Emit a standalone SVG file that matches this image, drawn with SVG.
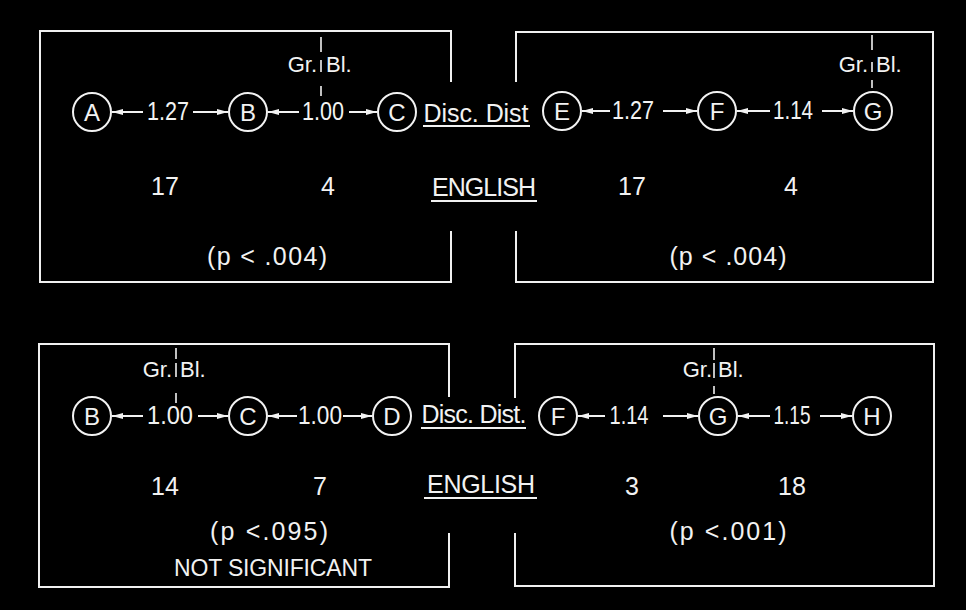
<svg xmlns="http://www.w3.org/2000/svg" width="966" height="610" viewBox="0 0 966 610">
<defs>
<marker id="ah" markerUnits="userSpaceOnUse" markerWidth="12" markerHeight="8" refX="11" refY="4" orient="auto">
<path d="M0,1 L11,4 L0,7 z" fill="#f2f2f2"/>
</marker>
</defs>
<style>
.frame{fill:none;stroke:#f0f0f0;stroke-width:2}
.node circle{fill:none;stroke:#f2f2f2;stroke-width:2}
.node text{font-family:"Liberation Sans",Arial,sans-serif;font-size:24px;fill:#f2f2f2;text-anchor:middle}
.conn line{stroke:#f2f2f2;stroke-width:2}
.arr{marker-end:url(#ah)}
.t{font-family:"Liberation Sans",Arial,sans-serif;font-size:25px;fill:#f2f2f2;text-anchor:middle}
.s{font-family:"Liberation Sans",Arial,sans-serif;font-size:22px;fill:#f2f2f2}
.u{stroke:#f2f2f2;stroke-width:2}
.gb{stroke:#f2f2f2;stroke-width:1.6}
</style>
<rect width="966" height="610" fill="#000"/>

<g id="frames">
<path class="frame" d="M451,82 V31 H40 V282 H451 V231"/>
<path class="frame" d="M516,82 V32 H933 V282 H516 V231"/>
<path class="frame" d="M449,397 V344 H39 V587 H449 V533"/>
<path class="frame" d="M515,398 V344 H934 V586 H515 V533"/>
</g>

<g id="tl-A" class="node"><circle cx="92" cy="112" r="19"/><text x="92" y="121">A</text></g>
<g id="tl-B" class="node"><circle cx="248" cy="112" r="19"/><text x="248" y="121">B</text></g>
<g id="tl-C" class="node"><circle cx="397" cy="112" r="19"/><text x="397" y="121">C</text></g>
<g id="tr-E" class="node"><circle cx="562" cy="111" r="19"/><text x="562" y="120">E</text></g>
<g id="tr-F" class="node"><circle cx="717" cy="111" r="19"/><text x="717" y="120">F</text></g>
<g id="tr-G" class="node"><circle cx="873" cy="111" r="19"/><text x="873" y="120">G</text></g>
<g id="bl-B" class="node"><circle cx="92" cy="416" r="19"/><text x="92" y="425">B</text></g>
<g id="bl-C" class="node"><circle cx="248" cy="416" r="19"/><text x="248" y="425">C</text></g>
<g id="bl-D" class="node"><circle cx="392" cy="416" r="19"/><text x="392" y="425">D</text></g>
<g id="br-F" class="node"><circle cx="558" cy="416" r="19"/><text x="558" y="425">F</text></g>
<g id="br-G" class="node"><circle cx="718" cy="416" r="19"/><text x="718" y="425">G</text></g>
<g id="br-H" class="node"><circle cx="872" cy="416" r="19"/><text x="872" y="425">H</text></g>

<g id="connectors" class="conn">
<line class="arr" x1="143" y1="112" x2="112" y2="112"/>
<line class="arr" x1="193" y1="112" x2="228" y2="112"/>
<line class="arr" x1="299" y1="112" x2="268" y2="112"/>
<line class="arr" x1="349" y1="112" x2="377" y2="112"/>
<line class="arr" x1="610" y1="111" x2="582" y2="111"/>
<line class="arr" x1="663" y1="111" x2="697" y2="111"/>
<line class="arr" x1="770" y1="111" x2="737" y2="111"/>
<line class="arr" x1="822" y1="111" x2="853" y2="111"/>
<line class="arr" x1="143" y1="416" x2="112" y2="416"/>
<line class="arr" x1="198" y1="416" x2="228" y2="416"/>
<line class="arr" x1="297" y1="416" x2="268" y2="416"/>
<line class="arr" x1="343" y1="416" x2="372" y2="416"/>
<line class="arr" x1="605" y1="416" x2="578" y2="416"/>
<line class="arr" x1="663" y1="416" x2="698" y2="416"/>
<line class="arr" x1="770" y1="416" x2="738" y2="416"/>
<line class="arr" x1="820" y1="416" x2="852" y2="416"/>
</g>

<g id="labels">
<text class="t" x="168" y="120" textLength="42" lengthAdjust="spacingAndGlyphs">1.27</text>
<text class="t" x="323" y="120" textLength="42" lengthAdjust="spacingAndGlyphs">1.00</text>
<text class="t" x="633" y="119" textLength="42" lengthAdjust="spacingAndGlyphs">1.27</text>
<text class="t" x="793" y="119" textLength="40" lengthAdjust="spacingAndGlyphs">1.14</text>
<text class="t" x="170" y="424" textLength="46" lengthAdjust="spacingAndGlyphs">1.00</text>
<text class="t" x="320" y="424" textLength="44" lengthAdjust="spacingAndGlyphs">1.00</text>
<text class="t" x="629" y="424" textLength="39" lengthAdjust="spacingAndGlyphs">1.14</text>
<text class="t" x="792" y="424" textLength="37" lengthAdjust="spacingAndGlyphs">1.15</text>

<text class="t" x="165" y="195">17</text>
<text class="t" x="328" y="195">4</text>
<text class="t" x="632" y="195">17</text>
<text class="t" x="791" y="195">4</text>
<text class="t" x="165" y="495">14</text>
<text class="t" x="320" y="495">7</text>
<text class="t" x="632" y="495">3</text>
<text class="t" x="792" y="495">18</text>

<text class="t" x="267" y="265" textLength="120" lengthAdjust="spacing">(p &lt; .004)</text>
<text class="t" x="728" y="265" textLength="117" lengthAdjust="spacing">(p &lt; .004)</text>
<text class="t" x="269" y="540" textLength="118" lengthAdjust="spacing">(p &lt;.095)</text>
<text class="t" x="728" y="540" textLength="117" lengthAdjust="spacing">(p &lt;.001)</text>
<text class="t" x="273" y="576" style="font-size:23px" textLength="198" lengthAdjust="spacing">NOT SIGNIFICANT</text>

<text class="t" x="476" y="122" textLength="105" lengthAdjust="spacing">Disc.  Dist</text>
<line class="u" x1="423" y1="126" x2="530" y2="126"/>
<text class="t" x="484" y="196" textLength="104" lengthAdjust="spacing">ENGLISH</text>
<line class="u" x1="431" y1="201" x2="537" y2="201"/>
<text class="t" x="474" y="423" textLength="105" lengthAdjust="spacing">Disc.  Dist.</text>
<line class="u" x1="421" y1="428" x2="526" y2="428"/>
<text class="t" x="481" y="493" textLength="108" lengthAdjust="spacing">ENGLISH</text>
<line class="u" x1="424" y1="498" x2="537" y2="498"/>

<text class="s" x="317" y="72" text-anchor="end">Gr.</text>
<text class="s" x="326" y="72">Bl.</text>
<line class="gb" x1="321" y1="37" x2="321" y2="52"/>
<line class="gb" x1="321" y1="60" x2="321" y2="72"/>
<line class="gb" x1="321" y1="86" x2="321" y2="96"/>

<text class="s" x="868" y="72" text-anchor="end">Gr.</text>
<text class="s" x="876" y="72">Bl.</text>
<line class="gb" x1="872" y1="35" x2="872" y2="50"/>
<line class="gb" x1="872" y1="62" x2="872" y2="72"/>
<line class="gb" x1="872" y1="80" x2="872" y2="88"/>

<text class="s" x="172" y="377" text-anchor="end">Gr.</text>
<text class="s" x="180" y="377">Bl.</text>
<line class="gb" x1="176" y1="348" x2="176" y2="359"/>
<line class="gb" x1="176" y1="363" x2="176" y2="377"/>
<line class="gb" x1="176" y1="393" x2="176" y2="403"/>

<text class="s" x="712" y="377" text-anchor="end">Gr.</text>
<text class="s" x="718" y="377">Bl.</text>
<line class="gb" x1="714" y1="348" x2="714" y2="360"/>
<line class="gb" x1="714" y1="363" x2="714" y2="378"/>
<line class="gb" x1="714" y1="386" x2="714" y2="394"/>
</g>
</svg>
